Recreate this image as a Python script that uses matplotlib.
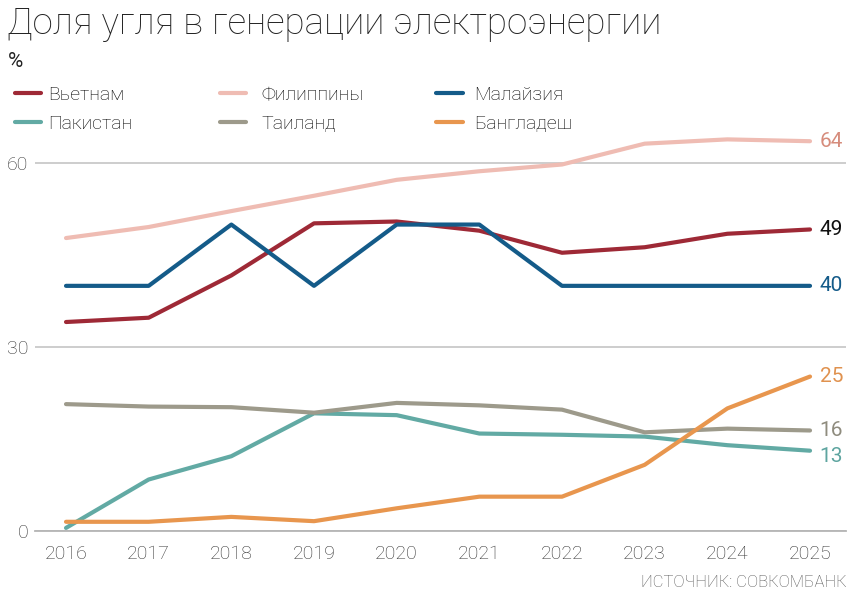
import matplotlib
matplotlib.use("Agg")
import matplotlib.pyplot as plt

plt.rcParams['font.family'] = ['Roboto', 'DejaVu Sans']

years = [2016, 2017, 2018, 2019, 2020, 2021, 2022, 2023, 2024, 2025]

vietnam = [34.1, 34.8, 41.7, 50.2, 50.5, 49.0, 45.4, 46.3, 48.5, 49.2]
philippines = [47.8, 49.6, 52.2, 54.7, 57.3, 58.7, 59.8, 63.2, 63.9, 63.6]
malaysia = [40, 40, 50, 40, 50, 50, 40, 40, 40, 40]
pakistan = [0.5, 8.4, 12.2, 19.2, 18.9, 15.9, 15.7, 15.4, 14.0, 13.1]
thailand = [20.7, 20.3, 20.2, 19.3, 20.9, 20.5, 19.8, 16.1, 16.7, 16.4]
bangladesh = [1.5, 1.5, 2.3, 1.6, 3.7, 5.6, 5.6, 10.8, 20.0, 25.2]

names = ["Вьетнам", "Филиппины", "Малайзия", "Пакистан", "Таиланд", "Бангладеш"]
series = [vietnam, philippines, malaysia, pakistan, thailand, bangladesh]
colors = ["#9e2936", "#efbcb3", "#145b89", "#62aaa4", "#9d9a8b", "#e8964e"]
label_colors = ["#111111", "#d68c7c", "#145b89", "#5ea5a0", "#8f8c7e", "#e0924f"]
end_labels = ["49", "64", "40", "13", "16", "25"]
label_dy = [0, 0, 0, -4, 0, 0]

fig = plt.figure(figsize=(8.54, 6.01), dpi=100)
ax = fig.add_axes([0.041, 0.1165, 0.9496, 0.673])

lines = []
for name, vals, c in zip(names, series, colors):
    ln, = ax.plot(years, vals, color=c, lw=3, solid_capstyle='round', label=name)
    lines.append(ln)

for vals, txt, c, dy in zip(series, end_labels, label_colors, label_dy):
    ax.annotate(txt, (years[-1], vals[-1]), xytext=(7, dy), textcoords='offset points',
                va='center', ha='left', fontsize=15, color=c)

ax.set_xlim(2015.625, 2025.435)
ax.set_ylim(0, 66)
ax.set_yticks([0, 30, 60])
ax.set_xticks(years)
ax.grid(axis='y', color='#c9c9c9', lw=1.3)
ax.set_axisbelow(True)
for s in ['top', 'right', 'left']:
    ax.spines[s].set_visible(False)
ax.spines['bottom'].set_color('#b5b5b5')
ax.spines['bottom'].set_linewidth(1.3)
ax.tick_params(axis='both', length=0, labelsize=14, labelcolor='#333333')
ax.tick_params(axis='x', pad=10)
ax.tick_params(axis='y', pad=5)
for t in ax.get_xticklabels() + ax.get_yticklabels():
    t.set_fontweight('light')

fig.text(0.008, 0.99, "Доля угля в генерации электроэнергии", fontsize=26.5,
         fontweight='light', va='top', ha='left', color='#222222')
fig.text(0.009, 0.897, "%", fontsize=15, va='center', ha='left', color='#222222')

# legend, three columns placed separately
col_x = [0.008, 0.248, 0.502]
pads = [0.35, 0.8, 0.6]
for i, x in enumerate(col_x):
    fig.legend([lines[i], lines[i + 3]], [names[i], names[i + 3]],
               loc='upper left', bbox_to_anchor=(x, 0.87), frameon=False,
               handlelength=1.35, handletextpad=pads[i],
               labelspacing=0.55, borderaxespad=0, prop={'weight': 'light', 'size': 14})

fig.text(0.991, 0.03, "ИСТОЧНИК: СОВКОМБАНК", fontsize=12, fontweight='light',
         ha='right', va='center', color='#555555')

fig.savefig("out.png", dpi=100)
